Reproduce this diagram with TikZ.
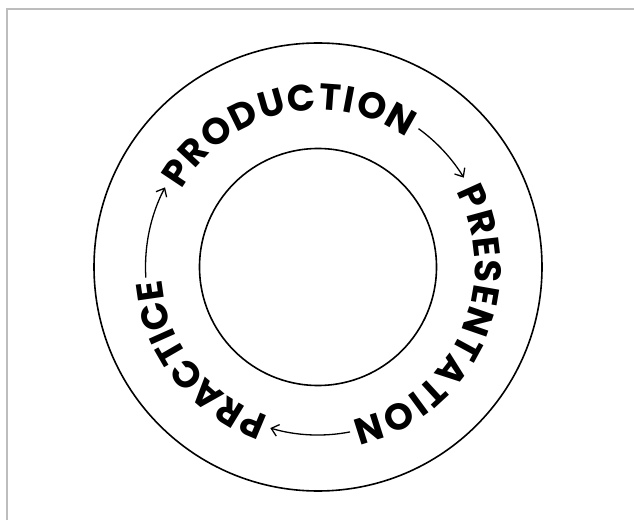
\documentclass[tikz,border=0pt]{standalone}
\usepackage{fontspec}
\usetikzlibrary{arrows.meta}
\newfontfamily\wf{Poppins}
\newcommand\lfont{\wf\bfseries\fontsize{37}{37}\selectfont}
\newsavebox\lettbox
\definecolor{framegray}{HTML}{BDBDBD}
\tikzset{
  letter/.style={font=\lfont, inner sep=0pt, outer sep=0pt, text=black},
  ring/.style={draw=black, line width=1.6pt},
  cyclearrow/.style={draw=black, line width=1.3pt, -{Straight Barb[length=7pt,width=12pt,line width=1.3pt]}},
  frameline/.style={draw=framegray, line width=2pt}
}
\newcommand\measureletter[1]{%
  \pgfinterruptpicture
    \global\setbox\lettbox=\hbox{\lfont #1}%
  \endpgfinterruptpicture
  \edef\wch{\the\wd\lettbox}%
}
% #1 name, #2 start angle, #3 end angle, #4 radius, #5 letters
\newcommand\arcword[5]{%
  \gdef\sumw{0}\gdef\nlet{0}%
  \foreach \ch in {#5}{%
    \measureletter{\ch}%
    \pgfmathsetmacro\tmpa{\sumw+\wch}\xdef\sumw{\tmpa}%
    \pgfmathsetmacro\tmpa{\nlet+1}\xdef\nlet{\tmpa}%
  }%
  \pgfmathsetmacro\trk{((#2-#3)*pi/180*#4-\sumw)/(\nlet-1)}%
  \xdef\trk{\trk}%
  \xdef\curang{#2}%
  \foreach \ch [count=\k] in {#5}{%
    \measureletter{\ch}%
    \pgfmathsetmacro\hw{(\wch)/2/#4*180/pi}%
    \pgfmathsetmacro\midang{\curang-\hw}%
    \pgfmathsetmacro\rot{\midang-90}%
    \node[letter, rotate=\rot, anchor=base] (#1\k) at (\midang:#4pt) {\ch};
    \pgfmathsetmacro\tmpa{\curang-((\wch)+\trk)/#4*180/pi}%
    \xdef\curang{\tmpa}%
  }%
}
\begin{document}
\begin{tikzpicture}[x=1pt,y=1pt]
\useasboundingbox (0,0) rectangle (634,520);
\fill[white] (0,0) rectangle (634,520);
% frame
\coordinate (fbl) at (7,0);
\coordinate (ftl) at (7,511);
\coordinate (ftr) at (634,511);
\draw[frameline] (fbl) -- (ftl) -- (ftr);
\begin{scope}[shift={(318,253)}]
  \node[ring, circle, minimum size=448pt, inner sep=0pt] (outer) at (0,0) {};
  \node[ring, circle, minimum size=237pt, inner sep=0pt] (inner) at (0,0) {};
  \arcword{prod}{150.5}{55.5}{157}{P,R,O,D,U,C,T,I,O,N}
  \arcword{pres}{28.5}{-77.5}{157}{P,R,E,S,E,N,T,A,T,I,O,N}
  \arcword{prac}{-108.5}{-175.5}{157}{P,R,A,C,T,I,C,E}
  \coordinate (a1s) at (54:171pt);
  \coordinate (a2s) at (-79:168pt);
  \coordinate (a3s) at (183.5:172.5pt);
  \draw[cyclearrow] (a1s) arc[start angle=54, end angle=31.5, radius=171pt];
  \draw[cyclearrow] (a2s) arc[start angle=-79, end angle=-106.5, radius=168pt];
  \draw[cyclearrow] (a3s) arc[start angle=183.5, end angle=152.5, radius=172.5pt];
\end{scope}
\end{tikzpicture}
\end{document}
